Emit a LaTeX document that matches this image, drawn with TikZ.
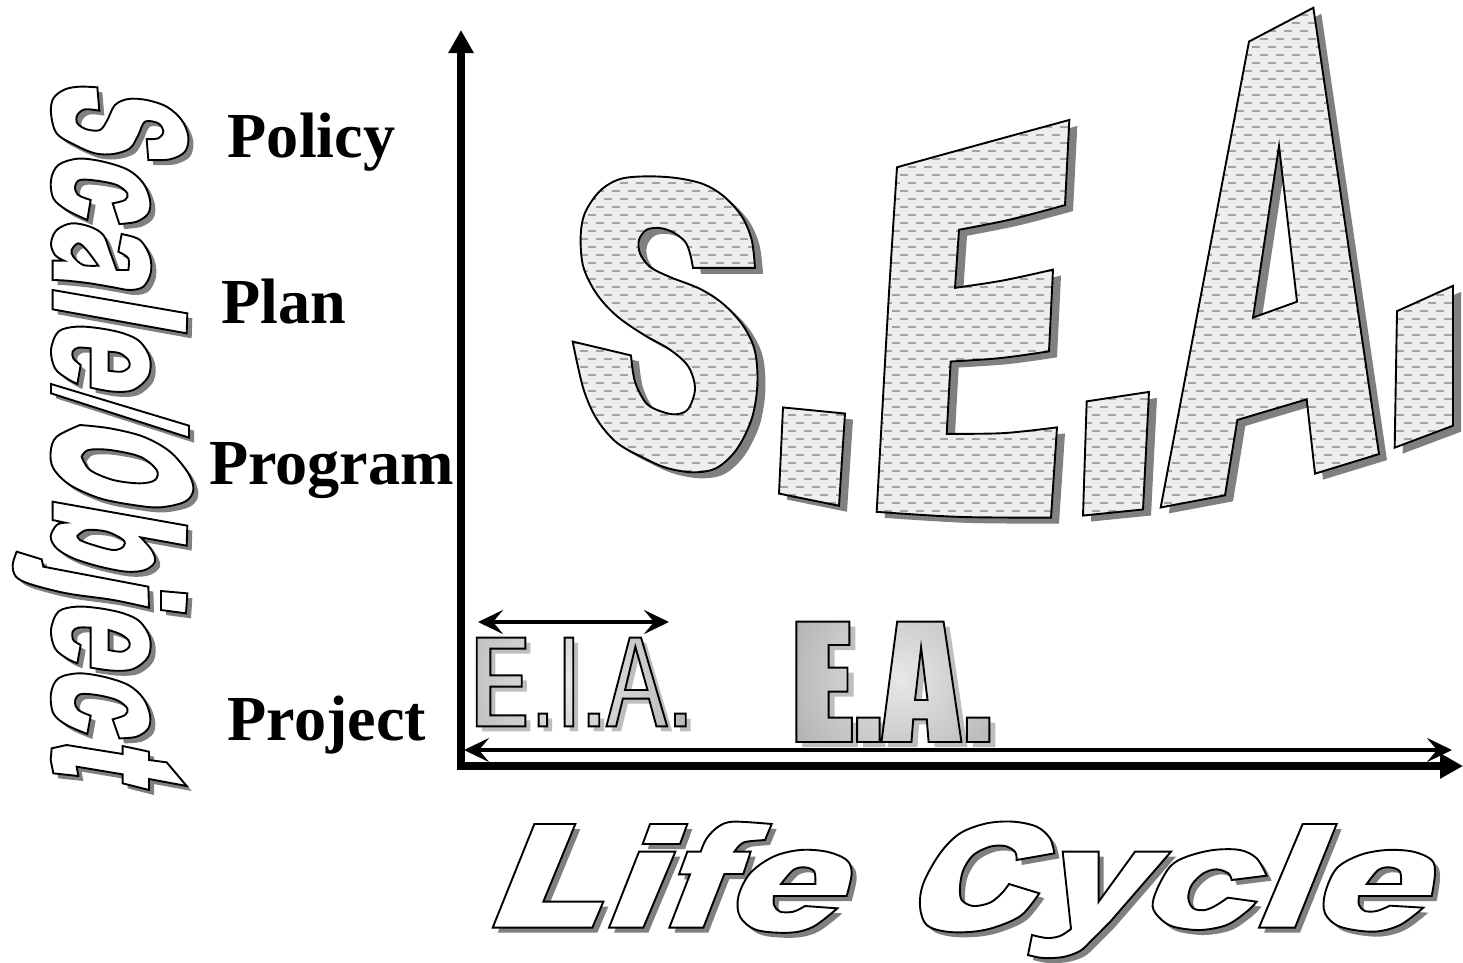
\documentclass[tikz,border=0pt]{standalone}
\usepackage{fontspec}
\setmainfont{Liberation Serif}
\usetikzlibrary{arrows.meta}
\definecolor{shadowdark}{HTML}{808080}
\definecolor{shadowlight}{HTML}{BEBEBE}
\definecolor{dotfill}{HTML}{EEEEEE}
\definecolor{dotdash}{HTML}{A2A2A2}
\definecolor{gradhi}{HTML}{E8E8E8}
\definecolor{gradlo}{HTML}{A6A6A6}
\def\sm#1{-- plot[smooth,tension=.55] coordinates {#1}}
% ---- S.E.A. (zoneA: origin 560,0; zoneB: origin 1040,0)
\def\GlS{(585,793) -- (399,793) \sm{(399,793) (390,750) (375,715) (340,688) (300,675) (260,680) (237,710) (240,750) (270,790) (330,820) (420,855) (490,900) (550,965) (585,1040) (592,1140) (575,1240) (530,1330) (470,1385) (400,1398) (320,1385) (250,1355) (170,1310) (110,1240) (70,1150) (38,1011)} -- (213,1052) \sm{(213,1052) (225,1130) (260,1195) (310,1220) (350,1226) (385,1210) (405,1150) (385,1085) (330,1035) (250,990) (170,935) (110,870) (70,790) (62,700) (75,630) (120,565) (180,530) (260,522) (350,527) (430,545) (490,580) (545,640) (575,710) (585,793)} -- cycle}
\def\GlDotA{(669,1206) -- (855,1224) -- (837,1497) -- (657,1461) -- cycle}
\def\GlE{(1011,495) \sm{(1011,495) (1250,430) (1528,355)} -- (1515,607) \sm{(1515,607) (1350,650) (1197,680)} -- (1185,852) \sm{(1185,852) (1330,830) (1479,798)} -- (1467,1040) \sm{(1467,1040) (1320,1060) (1172,1070)} -- (1160,1284) \sm{(1160,1284) (1330,1282) (1491,1265)} -- (1473,1532) \sm{(1473,1532) (1200,1530) (950,1515)} \sm{(950,1515) (985,900) (1011,495)} -- cycle}
\def\GlDotB{(140,1188) -- (327,1160) -- (309,1508) -- (129,1526) -- cycle}
\def\GlA{(820,23) -- (627,123) -- (362,1502) -- (555,1466) -- (592,1243) -- (800,1182) -- (825,1402) -- (1017,1344) -- cycle (717,432) -- (639,940) -- (771,893) -- cycle}
\def\GlDotC{(1071,921) -- (1239,846) -- (1239,1260) -- (1064,1325) -- cycle}
% ---- E.I.A. and E.A. (zoneC: origin 450,600)
\def\GlEIA{(75,113) -- (211,113) -- (211,146) -- (113,146) -- (113,226) -- (201,226) -- (201,260) -- (113,260) -- (113,346) -- (211,346) -- (211,379) -- (75,379) -- cycle
 (248,341) rectangle (272,379) (321,113) rectangle (345,379) (388,341) rectangle (418,379)
 (503,113) -- (535,113) -- (608,379) -- (578,379) -- (557,296) -- (484,296) -- (465,379) -- (438,379) -- cycle (519,140) -- (490,270) -- (553,270) -- cycle
 (630,341) rectangle (660,379)}
\def\GlEA{(970,65) -- (1118,65) -- (1118,135) -- (1060,135) -- (1060,203) -- (1113,203) -- (1113,275) -- (1060,275) -- (1060,353) -- (1125,353) -- (1125,426) -- (970,426) -- cycle
 (1140,353) rectangle (1203,426)
 (1252,65) -- (1382,65) -- (1432,426) -- (1340,426) -- (1335,358) -- (1297,358) -- (1292,426) -- (1208,426) -- cycle (1319,142) -- (1302,300) -- (1337,300) -- cycle
 (1447,353) rectangle (1510,426)}
% ---- Scale/Object (zoneD: origin 0,70; zoneE: origin 0,430)
\def\GlVs{(292,52) -- (298,122) \sm{(298,122) (255,118) (232,135) (232,160) (260,178) (300,180) (322,150) (345,105) (385,87) (440,90) (500,110) (545,150) (565,200) (555,245) (510,268) (445,270)} -- (440,207) \sm{(440,207) (475,205) (490,185) (475,160) (435,155) (415,195) (390,235) (340,252) (285,250) (225,225) (170,190) (153,130) (160,85) (195,58) (240,50) (292,52)} -- cycle}
\def\GlVc{(262,450) \sm{(262,450) (200,420) (160,385) (153,330) (175,285) (235,266) (310,275) (385,300) (430,340) (450,390) (445,430) (410,455) (358,462)} -- (338,400) \sm{(338,400) (375,390) (382,370) (350,345) (290,332) (240,330) (225,350) (235,375) (272,390)} -- cycle}
\def\GlVa{(158,630) -- (158,572) -- (192,572) \sm{(192,572) (165,555) (153,520) (170,480) (215,460) (270,470) (310,495) (330,545) (350,600)} -- (385,600) \sm{(385,600) (385,565) (355,545)} -- (365,492) \sm{(365,492) (420,510) (450,560) (452,610) (430,650) (390,660) (340,652) (270,640) (200,632) (158,630)} -- cycle (295,587) \sm{(295,587) (250,585) (220,560) (215,540) (235,520) (260,540) (295,587)} -- cycle}
\def\GlVl{(158,660) -- (562,730) -- (560,790) -- (158,718) -- cycle}
\def\GlVe{(272,835) -- (272,953) \sm{(272,953) (340,965) (400,960) (445,920) (450,865) (420,815) (370,790) (300,775) (230,770) (175,785) (153,840) (165,895) (200,925) (232,942)} -- (242,885) \sm{(242,885) (220,865) (218,845) (235,833) (272,835)} -- cycle (326,845) -- (326,902) \sm{(326,902) (365,905) (388,890) (385,870) (360,850) (326,845)} -- cycle}
\def\GlVslash{(153,942) -- (567,1067) -- (567,1103) -- (153,970) -- cycle}
\def\GlVO{(240,-15) \sm{(240,-15) (330,-5) (430,20) (510,65) (565,130) (580,180) (555,215) (480,232) (400,225) (300,205) (210,165) (160,115) (152,65) (170,20) (240,-15)} -- cycle (245,80) \sm{(245,80) (265,60) (330,60) (420,80) (470,120) (465,150) (420,160) (340,150) (270,120) (245,80)} -- cycle}
\def\GlVb{(158,215) -- (562,287) -- (560,347) -- (422,322) \sm{(422,322) (455,360) (465,395) (435,420) (380,425) (300,410) (220,385) (170,355) (152,320) (170,285) (195,278)} -- (158,270) -- cycle (232,318) \sm{(232,318) (260,300) (320,305) (370,330) (370,350) (340,360) (280,345) (240,330) (232,318)} -- cycle}
\def\GlVj{(50,365) -- (125,388) -- (130,410) -- (445,470) -- (447,533) \sm{(447,533) (340,510) (200,490) (90,462) (48,440) (38,405) (50,365)} -- cycle}
\def\GlVjd{(483,483) -- (562,490) -- (558,550) -- (483,540) -- cycle}
\def\GlVee{(272,593) -- (272,713) \sm{(272,713) (340,722) (400,717) (445,680) (450,625) (420,575) (370,550) (300,535) (230,530) (175,545) (153,600) (165,655) (200,685) (232,700)} -- (242,645) \sm{(242,645) (220,630) (218,605) (235,593) (272,593)} -- cycle (326,600) -- (326,660) \sm{(326,660) (365,665) (388,650) (385,630) (360,612) (326,600)} -- cycle}
\def\GlVcc{(262,912) \sm{(262,912) (200,885) (160,850) (153,790) (175,745) (235,730) (310,740) (385,765) (430,805) (450,855) (445,895) (410,920) (358,925)} -- (338,868) \sm{(338,868) (375,855) (382,835) (350,810) (290,795) (240,793) (225,815) (235,840) (272,857)} -- cycle}
\def\GlVt{(155,955) -- (200,945) -- (368,972) -- (368,948) -- (447,965) -- (447,990) -- (500,997) -- (560,1068) -- (447,1047) -- (447,1080) -- (368,1060) -- (368,1033) -- (230,1010) -- (235,1038) -- (160,1030) -- (152,990) -- cycle}
% ---- Life Cycle (zoneF: origin 480,810; zoneG: origin 960,810)
\def\GlHL{(163,42) -- (286,42) -- (190,275) -- (370,275) -- (337,353) -- (38,353) -- cycle}
\def\GlHid{(510,42) -- (622,42) -- (600,102) -- (488,102) -- cycle}
\def\GlHi{(477,125) -- (586,125) -- (490,353) -- (387,353) -- cycle}
\def\GlHf{(568,353) -- (630,193) -- (597,193) -- (622,125) -- (662,125) \sm{(662,125) (680,85) (715,50) (760,35) (875,42)} -- (855,90) \sm{(855,90) (800,95) (780,105) (763,125)} -- (812,125) -- (790,192) -- (733,192) -- (670,353) -- cycle}
\def\GlHe{(882,258) -- (1100,258) \sm{(1100,258) (1115,190) (1100,150) (1040,125) (960,120) (880,140) (810,190) (775,260) (780,320) (830,360) (930,368) (1000,350) (1072,295)} -- (975,288) \sm{(975,288) (940,305) (900,305) (882,285) (882,258)} -- cycle (903,222) -- (1006,222) \sm{(1006,222) (1003,185) (975,172) (940,180) (903,222)} -- cycle}
\def\GlHC{(283,130) -- (170,150) \sm{(170,150) (165,125) (135,108) (90,110) (40,135) (10,180) (0,230) (5,270) (40,288) (90,278) (125,250) (147,222)} -- (238,250) \sm{(238,250) (185,315) (110,350) (40,365) (-40,365) (-100,345) (-120,290) (-110,220) (-60,130) (0,70) (80,40) (160,35) (230,50) (270,85) (283,130)} -- cycle}
\def\GlHy{(308,125) -- (416,125) -- (416,275) -- (525,125) -- (633,125) -- (450,336) \sm{(450,336) (396,390) (360,423) (309,441) (249,444) (204,435)} -- (216,375) \sm{(216,375) (261,384) (300,378) (333,357)} -- cycle}
\def\GlHc{(920,197) -- (815,210) \sm{(815,210) (805,190) (770,178) (730,190) (695,225) (685,265) (700,295) (735,300) (770,285) (803,263)} -- (890,275) \sm{(890,275) (860,305) (800,345) (720,360) (640,350) (600,325) (578,290) (590,240) (630,170) (680,140) (760,120) (840,120) (890,145) (920,197)} -- cycle}
\def\GlHl{(1028,42) -- (1130,42) -- (1005,353) -- (897,353) -- cycle}
\def\GlHee{(1197,258) -- (1415,258) \sm{(1415,258) (1425,190) (1415,150) (1360,125) (1280,120) (1200,135) (1130,175) (1095,250) (1095,310) (1140,350) (1240,365) (1320,345) (1390,293)} -- (1290,287) \sm{(1290,287) (1250,303) (1215,303) (1197,285) (1197,258)} -- cycle (1220,222) -- (1323,222) \sm{(1323,222) (1320,185) (1290,172) (1255,180) (1220,222)} -- cycle}
% ---- helpers
\def\DashRows{\foreach \k in {0,...,66}{\pgfmathsetmacro{\yy}{7+8*\k}\pgfmathsetmacro{\ph}{ifthenelse(isodd(\k),6,14)}\draw[dotdash,line width=2.4pt,dash pattern=on 8pt off 8pt,dash phase=\ph pt] (570,\yy) -- (1466,\yy);}}
\def\DotLetter#1#2{\fill[shadowdark,even odd rule,shift={(8,6)},#1] #2;
 \begin{scope}[even odd rule]\clip[#1] #2; \fill[dotfill] (560,0) rectangle (1463,540); \DashRows\end{scope}
 \draw[glyphline,#1] #2;}
\def\GShadow#1#2{\fill[shadowdark,even odd rule,shift={(5,5)},#1] #2;}
\def\GBody#1#2{\fill[white,even odd rule,#1] #2; \draw[glyphline,#1] #2;}
\def\VerticalWord#1{#1{zoneD}{\GlVs}#1{zoneD}{\GlVc}#1{zoneD}{\GlVa}#1{zoneD}{\GlVl}#1{zoneD}{\GlVe}#1{zoneD}{\GlVslash}#1{zoneE}{\GlVO}#1{zoneE}{\GlVb}#1{zoneE}{\GlVj}#1{zoneE}{\GlVjd}#1{zoneE}{\GlVee}#1{zoneE}{\GlVcc}#1{zoneE}{\GlVt}}
\def\HorizontalWord#1{#1{zoneF}{\GlHL}#1{zoneF}{\GlHid}#1{zoneF}{\GlHi}#1{zoneF}{\GlHf}#1{zoneF}{\GlHe}#1{zoneG}{\GlHC}#1{zoneG}{\GlHy}#1{zoneG}{\GlHc}#1{zoneG}{\GlHl}#1{zoneG}{\GlHee}}
\def\GradWord#1#2#3#4#5{\fill[shadowlight,even odd rule,shift={#4},zoneC] #1;
 \begin{scope}[even odd rule]\clip[zoneC] #1; \shade[inner color=gradhi,outer color=gradlo] (#2,#3) circle (#5);\end{scope}
 \draw[glyphline,zoneC] #1;}
\tikzset{
 glyphline/.style={draw=black,line width=1.9pt,line join=miter,even odd rule},
 zoneA/.style={shift={(560,0)},xscale=0.33333,yscale=0.33784},
 zoneB/.style={shift={(1040,0)},xscale=0.33333,yscale=0.33784},
 zoneC/.style={shift={(450,600)},xscale=0.35714,yscale=0.33333},
 zoneD/.style={shift={(0,70)},scale=0.33333},
 zoneE/.style={shift={(0,430)},scale=0.33333},
 zoneF/.style={shift={(480,810)},scale=0.33333},
 zoneG/.style={shift={(960,810)},scale=0.33333},
 levellabel/.style={anchor=base west,inner sep=0pt,font=\bfseries\fontsize{64.2}{65}\selectfont},
 axisline/.style={line width=8pt,-{Triangle[length=23pt,width=24pt]}},
 spanline/.style={line width=4pt,{Stealth[length=25pt,width=24pt,inset=10pt]}-{Stealth[length=25pt,width=24pt,inset=10pt]}}
}
\begin{document}
\begin{tikzpicture}[x=1pt,y=-1pt]
\useasboundingbox (0,0) rectangle (1463,962);
\fill[white] (0,0) rectangle (1463,962);
% vertical word
\VerticalWord\GShadow
\VerticalWord\GBody
% labels
\node[levellabel] (policy) at (227.5,157) {Policy};
\node[levellabel] (plan) at (221,323) {Plan};
\node[levellabel] (program) at (209,484) {Program};
\node[levellabel] (project) at (227.5,740) {Project};
% S.E.A.
\DotLetter{zoneA}{\GlS}
\DotLetter{zoneA}{\GlDotA}
\DotLetter{zoneA}{\GlE}
\DotLetter{zoneB}{\GlDotB}
\DotLetter{zoneB}{\GlA}
\DotLetter{zoneB}{\GlDotC}
% E.I.A., E.A.
\GradWord{\GlEIA}{568}{680}{(5,5)}{170pt}
\GradWord{\GlEA}{900}{678}{(6,5)}{150pt}
% axes
\coordinate (origin-v) at (461,770);
\coordinate (top-v) at (461,30);
\coordinate (origin-h) at (457,766);
\coordinate (end-h) at (1463,766);
\draw[axisline] (origin-v) -- (top-v);
\draw[axisline] (origin-h) -- (end-h);
% span arrows
\coordinate (eia-l) at (478,622);
\coordinate (eia-r) at (669,622);
\coordinate (ea-l) at (464,750);
\coordinate (ea-r) at (1452,750);
\draw[spanline] (eia-l) -- (eia-r);
\draw[spanline] (ea-l) -- (ea-r);
% Life Cycle
\HorizontalWord\GShadow
\HorizontalWord\GBody
\end{tikzpicture}
\end{document}
